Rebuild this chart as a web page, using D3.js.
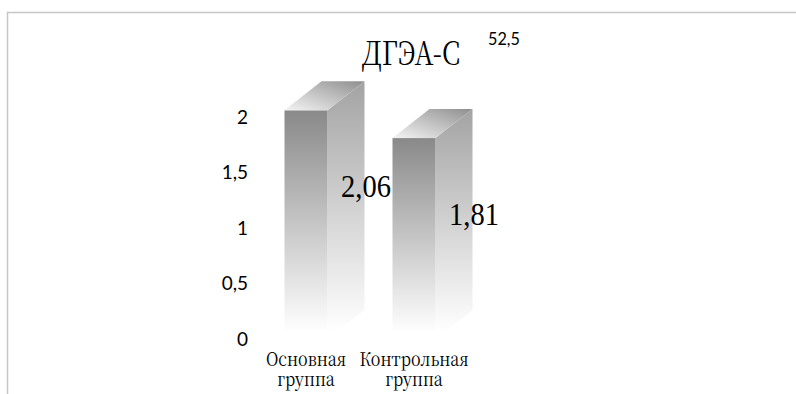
<!DOCTYPE html>
<html>
<head>
<meta charset="utf-8">
<script src="https://cdn.jsdelivr.net/npm/d3@7/dist/d3.min.js"></script>
<style>
  html, body { margin: 0; padding: 0; background: #fff; }
  svg { display: block; }
  .serif { font-family: "Noto Serif CJK SC", "Liberation Serif", serif; }
  .digits { font-family: "Liberation Serif", "Times New Roman", serif; }
  .sans { font-family: Lato, "Open Sans", sans-serif; }
</style>
</head>
<body>
<svg id="chart" width="796" height="394"></svg>
<script>
// ДГЭА-С by group
const categories = [["Основная", "группа"], ["Контрольная", "группа"]];
const values = [2.06, 1.81];
const valueLabels = ["2,06", "1,81"];
const yTicks = [0, 0.5, 1, 1.5, 2];
const yTickLabels = ["0", "0,5", "1", "1,5", "2"];
const chartTitle = "ДГЭА-С";
const titleNote = "52,5";

const W = 796, H = 394;
const svg = d3.select("#chart");
const defs = svg.append("defs");

// narrow a text run horizontally, as the serif face used here is wider than the chart's
function squeeze(sel, k) {
  sel.each(function () {
    const len = this.getComputedTextLength();
    d3.select(this).attr("textLength", len * k).attr("lengthAdjust", "spacingAndGlyphs");
  });
}

// outer frame of the chart area (runs past the right and bottom edges)
svg.append("rect")
  .attr("x", 7.5).attr("y", 12.5)
  .attr("width", W + 20).attr("height", H + 20)
  .attr("fill", "none").attr("stroke", "#c6c6c6").attr("stroke-width", 1.5);

const catKeys = categories.map(c => c.join(" "));
const x = d3.scalePoint().domain(catKeys).range([306, 414]);
const y = d3.scaleLinear().domain([0, 2]).range([339, 117]);

const faceW = 43;     // front face width
const depthX = 37;    // 3D depth offset
const depthY = 29;

// gradients
function vGrad(id, top) {
  const g = defs.append("linearGradient").attr("id", id)
    .attr("x1", 0).attr("y1", 0).attr("x2", 0).attr("y2", 1);
  g.append("stop").attr("offset", 0).attr("stop-color", top);
  g.append("stop").attr("offset", 0.97).attr("stop-color", "#ffffff");
}
vGrad("gFront", "#898989");
vGrad("gSide", "#a3a3a3");
const gt = defs.append("linearGradient").attr("id", "gTop")
  .attr("x1", 0).attr("y1", 1).attr("x2", 1).attr("y2", 0);
gt.append("stop").attr("offset", 0).attr("stop-color", "#f4f4f4");
gt.append("stop").attr("offset", 0.6).attr("stop-color", "#b8b8b8");
gt.append("stop").attr("offset", 1).attr("stop-color", "#8e8e8e");

// y axis labels
svg.append("g").selectAll("text")
  .data(yTicks)
  .join("text")
  .attr("class", "sans")
  .attr("x", 248)
  .attr("y", d => y(d))
  .attr("dy", "0.36em")
  .attr("text-anchor", "end")
  .attr("font-size", 19)
  .attr("fill", "#000")
  .text((d, i) => yTickLabels[i]);

// 3D bars
const bars = svg.append("g").selectAll("g")
  .data(values.map((v, i) => ({ v, key: catKeys[i], i })))
  .join("g");

bars.each(function (d) {
  const g = d3.select(this);
  const x0 = x(d.key) - faceW / 2, x1 = x0 + faceW;
  const yt = y(d.v), yb = y(0);
  // side face
  g.append("path")
    .attr("d", `M${x1},${yt} L${x1 + depthX},${yt - depthY} L${x1 + depthX},${yb - depthY} L${x1},${yb} Z`)
    .attr("fill", "url(#gSide)");
  // front face
  g.append("rect")
    .attr("x", x0).attr("y", yt).attr("width", faceW).attr("height", yb - yt)
    .attr("fill", "url(#gFront)");
  // top face
  g.append("path")
    .attr("d", `M${x0},${yt} L${x1},${yt} L${x1 + depthX},${yt - depthY} L${x0 + depthX},${yt - depthY} Z`)
    .attr("fill", "url(#gTop)");
});

// value labels
svg.append("g").selectAll("text")
  .data(values)
  .join("text")
  .attr("class", "digits")
  .attr("x", (d, i) => x(catKeys[i]) + 60)
  .attr("y", d => y(d) + 87)
  .attr("text-anchor", "middle")
  .attr("font-size", 31)
  .attr("fill", "#000")
  .text((d, i) => valueLabels[i])
  .call(squeeze, 0.92);

// category labels, two lines each, narrowed around their centre
const cat = svg.append("g").selectAll("text")
  .data(categories)
  .join("text")
  .attr("class", "serif")
  .attr("transform", (d, i) => `translate(${x(catKeys[i])},366) scale(0.85,1)`)
  .attr("text-anchor", "middle")
  .attr("font-size", 19)
  .attr("fill", "#000");
cat.selectAll("tspan")
  .data(d => d)
  .join("tspan")
  .attr("x", 0)
  .attr("dy", (d, j) => j === 0 ? 0 : 20)
  .text(d => d);

// title and note
svg.append("text")
  .attr("class", "serif")
  .attr("x", 411).attr("y", 65)
  .attr("text-anchor", "middle")
  .attr("font-size", 33)
  .attr("fill", "#000")
  .text(chartTitle)
  .call(squeeze, 0.8);
svg.append("text")
  .attr("class", "sans")
  .attr("x", 488).attr("y", 45)
  .attr("font-size", 18)
  .attr("fill", "#000")
  .text(titleNote)
  .call(squeeze, 0.9);
</script>
</body>
</html>
